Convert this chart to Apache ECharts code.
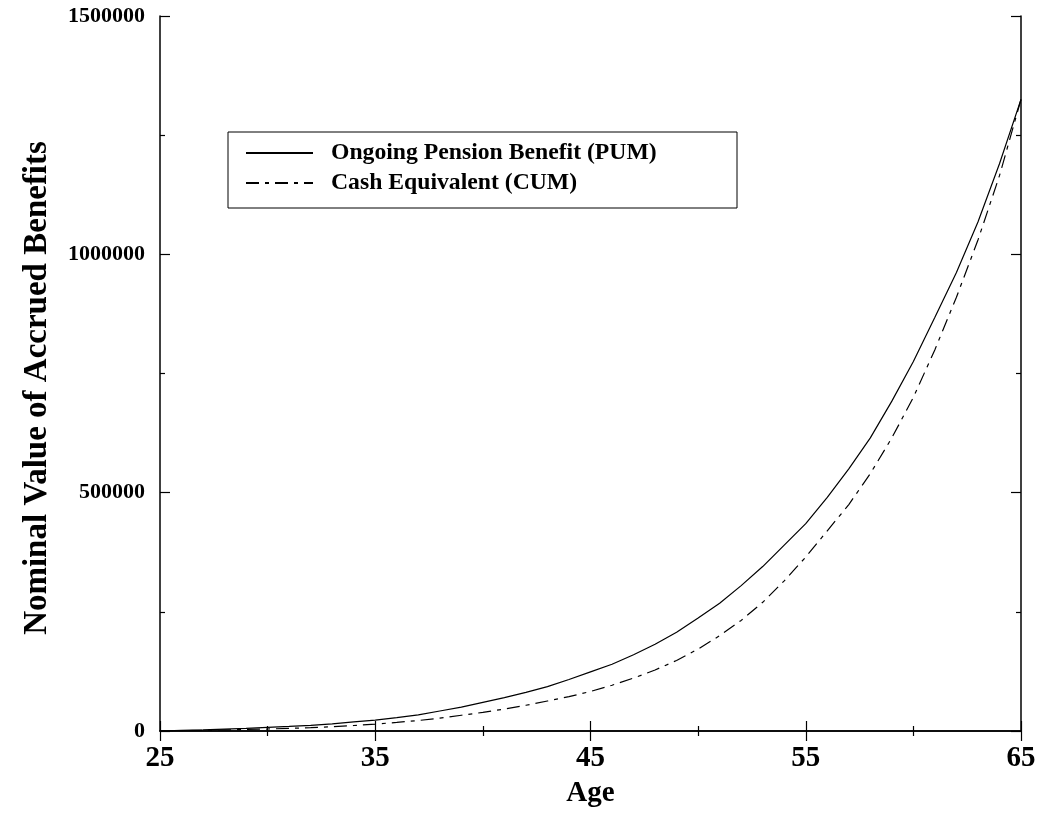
<!DOCTYPE html>
<html>
<head>
<meta charset="utf-8">
<script src="https://cdn.jsdelivr.net/npm/echarts@6/dist/echarts.min.js"></script>
<style>
html,body{margin:0;padding:0;background:#fff;}
#chart{width:1041px;height:820px;}
</style>
</head>
<body>
<div id="chart"></div>
<script>
const ages = [25,26,27,28,29,30,31,32,33,34,35,36,37,38,39,40,41,42,43,44,45,46,47,48,49,50,51,52,53,54,55,56,57,58,59,60,61,62,63,64,65];
const pumValues = [0,1500,2500,4000,5500,7500,9500,12000,15000,19000,23000,28000,34000,42000,50000,60000,70000,81000,93000,108000,124000,140000,160000,182000,207000,237000,268000,305000,345000,390000,435000,490000,550000,615000,692000,775000,868000,962000,1068000,1190000,1325000];
const cumValues = [0,800,1500,2300,3200,4200,5500,7000,9000,11500,14500,18000,22000,27000,33000,39000,46000,54000,63000,72000,83000,96000,111000,128000,148000,172000,200000,232000,270000,315000,365000,420000,475000,540000,615000,700000,800000,910000,1030000,1165000,1325000];
const seriesNames = ['Ongoing Pension Benefit (PUM)', 'Cash Equivalent (CUM)'];
const xTitle = 'Age';
const yTitle = 'Nominal Value of Accrued Benefits';

const font = 'Liberation Serif, Times New Roman, serif';
const pumData = ages.map((a, i) => [a, pumValues[i]]);
const cumData = ages.map((a, i) => [a, cumValues[i]]);

const chart = echarts.init(document.getElementById('chart'), null, {renderer: 'canvas'});
const axisLine = {show: true, lineStyle: {color: '#000', width: 1.5}};
const axisTick = {show: true, inside: true, length: 10, lineStyle: {color: '#000', width: 1.2}};
const minorTick = {show: true, splitNumber: 2, length: 5, lineStyle: {color: '#000', width: 1.2}};

chart.setOption({
  backgroundColor: '#fff',
  animation: false,
  grid: {left: 160, right: 20, top: 16, bottom: 89, containLabel: false},
  legend: {
    orient: 'vertical',
    left: 245, top: 141,
    padding: 0,
    itemWidth: 67, itemHeight: 20, itemGap: 6,
    itemStyle: {opacity: 0},
    textStyle: {fontFamily: font, fontWeight: 'bold', fontSize: 23.7, lineHeight: 24, color: '#000', padding: [0, 0, 0, 13]},
    data: [
      {name: seriesNames[0]},
      {name: seriesNames[1]}
    ]
  },
  graphic: [{
    type: 'rect', shape: {x: 228, y: 132, width: 509, height: 76},
    style: {fill: 'none', stroke: '#000', lineWidth: 1}, z: 10
  }, {
    type: 'text', x: 37, y: 388, rotation: Math.PI / 2,
    style: {text: yTitle, fontFamily: font, fontWeight: 'bold', fontSize: 33, fill: '#000',
            textAlign: 'center', textVerticalAlign: 'middle'}
  }],
  xAxis: [{
    type: 'value', min: 25, max: 65, interval: 10, position: 'bottom',
    name: xTitle, nameLocation: 'middle', nameGap: 48,
    nameTextStyle: {fontFamily: font, fontWeight: 'bold', fontSize: 29, color: '#000'},
    axisLine: axisLine, axisTick: axisTick, minorTick: minorTick,
    splitLine: {show: false}, minorSplitLine: {show: false},
    axisLabel: {fontFamily: font, fontWeight: 'bold', fontSize: 29, color: '#000', margin: 13}
  }, {
    type: 'value', min: 25, max: 65, interval: 10, position: 'top',
    axisLine: axisLine, axisTick: axisTick, minorTick: minorTick,
    splitLine: {show: false}, axisLabel: {show: false}
  }],
  yAxis: [{
    type: 'value', min: 0, max: 1500000, interval: 500000, position: 'left',
    axisLine: axisLine, axisTick: axisTick, minorTick: minorTick,
    splitLine: {show: false},
    axisLabel: {fontFamily: font, fontWeight: 'bold', fontSize: 22, color: '#000', margin: 15,
                formatter: v => String(v)}
  }, {
    type: 'value', min: 0, max: 1500000, interval: 500000, position: 'right',
    axisLine: axisLine, axisTick: axisTick, minorTick: minorTick,
    splitLine: {show: false}, axisLabel: {show: false}
  }],
  series: [{
    name: seriesNames[0], type: 'line', data: pumData, showSymbol: false, symbol: 'none', smooth: false,
    lineStyle: {color: '#000', width: 1.2, type: 'solid'}, itemStyle: {color: '#000'}
  }, {
    name: seriesNames[1], type: 'line', data: cumData, showSymbol: false, symbol: 'none', smooth: false,
    lineStyle: {color: '#000', width: 1.2, type: [13, 6, 4, 6]}, itemStyle: {color: '#000'}
  }]
});
</script>
</body>
</html>
